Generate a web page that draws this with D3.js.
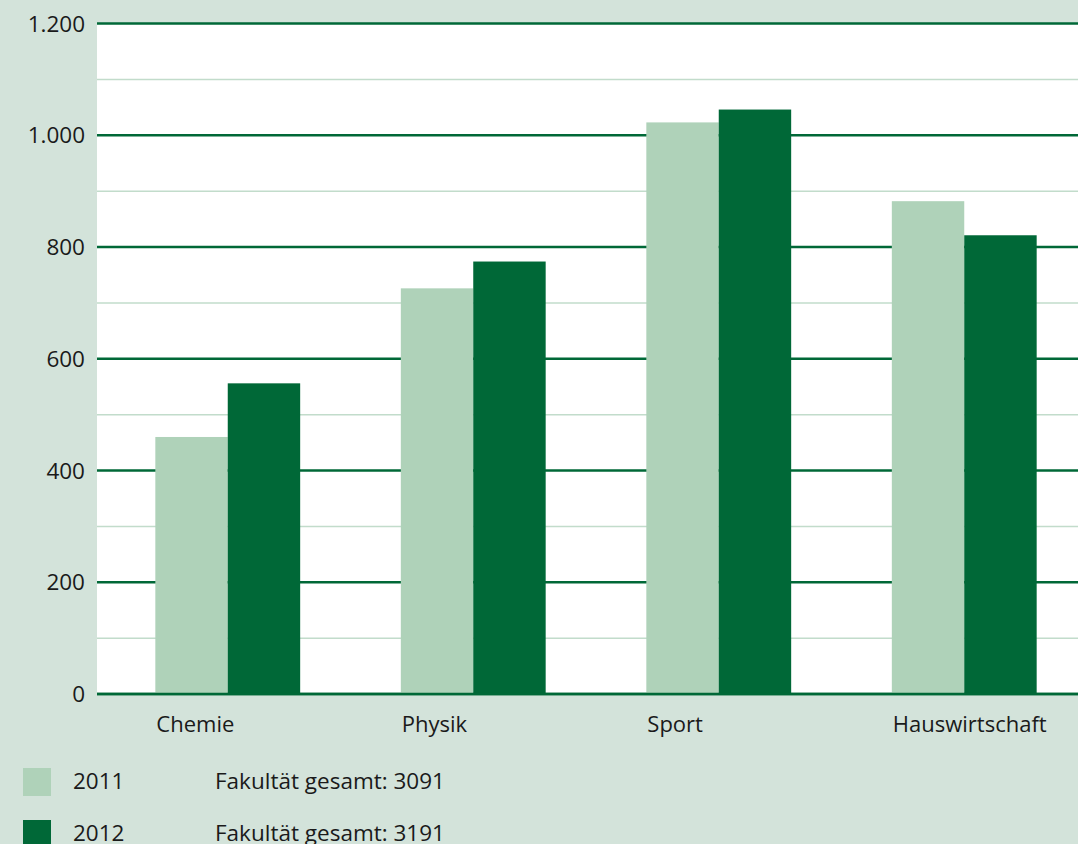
<!DOCTYPE html>
<html>
<head>
<meta charset="utf-8">
<script src="https://cdn.jsdelivr.net/npm/d3@7"></script>
<style>
  body { margin: 0; background: #d3e3da; }
  text { font-family: "Open Sans", "Noto Sans", sans-serif; fill: #1a1a1a; }
</style>
</head>
<body>
<svg width="1078" height="844"></svg>
<script>
// daten
var categories = ["Chemie", "Physik", "Sport", "Hauswirtschaft"],
	years = ["2011", "2012"],
	values2011 = [460, 726, 1023, 882],
	values2012 = [556, 774, 1046, 821],
	totals = ["Fakultät gesamt: 3091", "Fakultät gesamt: 3191"],
	majorTicks = [0, 200, 400, 600, 800, 1000, 1200],
	minorTicks = [100, 300, 500, 700, 900, 1100];

var colors = ["#afd2b9", "#006837"];

var svg = d3.select("svg"),
	plotLeft = 97, plotRight = 1078, plotTop = 23.5, plotBottom = 694;

var y = d3.scaleLinear().domain([0, 1200]).range([plotBottom, plotTop]);
var x = d3.scaleBand().domain(categories).range([105, 1087])
	.paddingInner(0.41).paddingOuter(0.205);
var xs = d3.scaleBand().domain(years).range([0, x.bandwidth()]);

// plotflaeche
svg.append("rect").attr("x", plotLeft).attr("y", plotTop).attr("width", plotRight - plotLeft)
	.attr("height", plotBottom - plotTop).attr("fill", "#fff");

// gitternetz
svg.selectAll(".minor").data(minorTicks).enter().append("line")
	.attr("x1", plotLeft).attr("x2", plotRight)
	.attr("y1", d => y(d)).attr("y2", d => y(d))
	.attr("stroke", "#c2dccb").attr("stroke-width", 1.5);
svg.selectAll(".major").data(majorTicks).enter().append("line")
	.attr("x1", plotLeft).attr("x2", plotRight)
	.attr("y1", d => y(d)).attr("y2", d => y(d))
	.attr("stroke", "#006837").attr("stroke-width", 2.5);

// balken
var series = [values2011, values2012];
series.forEach(function(vals, s) {
	svg.selectAll(".bar" + s).data(vals).enter().append("rect")
		.attr("x", (d, i) => x(categories[i]) + xs(years[s]))
		.attr("width", xs.bandwidth())
		.attr("y", d => y(d))
		.attr("height", d => y(0) - y(d))
		.attr("fill", colors[s]);
});

// achse unten nochmal drueber
svg.append("line").attr("x1", plotLeft).attr("x2", plotRight)
	.attr("y1", y(0)).attr("y2", y(0))
	.attr("stroke", "#006837").attr("stroke-width", 2.5);

// y-beschriftung
var fmt = d3.formatLocale({decimal: ",", thousands: ".", grouping: [3], currency: ["", "€"]}).format(",");
svg.selectAll(".ylab").data(majorTicks).enter().append("text")
	.attr("x", 85).attr("y", d => y(d) + 8)
	.attr("text-anchor", "end").attr("font-size", 22.5)
	.text(d => fmt(d));

// x-beschriftung
svg.selectAll(".xlab").data(categories).enter().append("text")
	.attr("x", d => x(d) + 1).attr("y", 732)
	.attr("font-size", 22)
	.text(d => d);

// legende
var leg = svg.selectAll(".leg").data(years).enter().append("g")
	.attr("transform", (d, i) => "translate(0," + (768 + i * 52) + ")");
leg.append("rect").attr("x", 23).attr("width", 28).attr("height", 28)
	.attr("fill", (d, i) => colors[i]);
leg.append("text").attr("x", 73).attr("y", 21).attr("font-size", 22.5).text(d => d);
leg.append("text").attr("x", 215).attr("y", 21).attr("font-size", 22.5).text((d, i) => totals[i]);
</script>
</body>
</html>
